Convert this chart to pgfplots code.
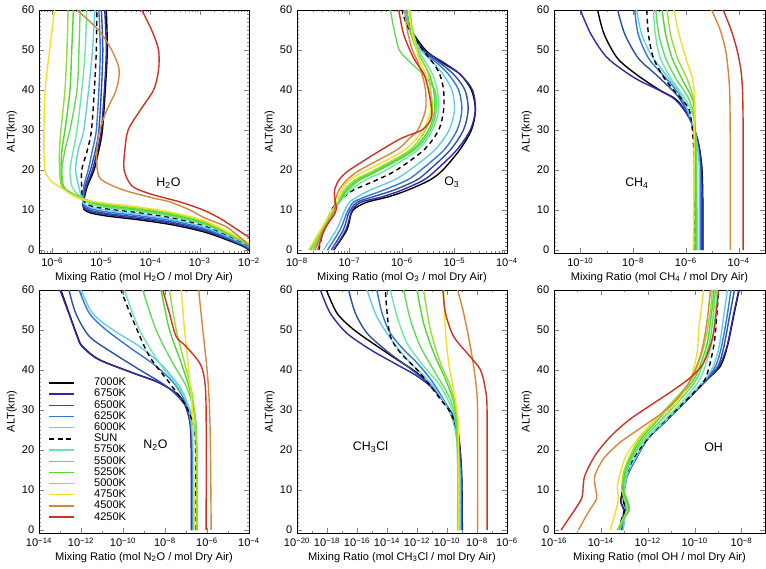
\documentclass[border=0pt]{standalone}
\usepackage{fontspec}
\setmainfont{Liberation Sans}
\usepackage{pgfplots}
\pgfplotsset{compat=1.18}

\definecolor{c6750}{RGB}{50,40,170}
\definecolor{c6500}{RGB}{45,80,165}
\definecolor{c6250}{RGB}{50,120,215}
\definecolor{c6000}{RGB}{100,205,235}
\definecolor{c5750}{RGB}{110,230,170}
\definecolor{c5500}{RGB}{100,220,90}
\definecolor{c5250}{RGB}{80,215,50}
\definecolor{c5000}{RGB}{150,220,60}
\definecolor{c4750}{RGB}{240,225,40}
\definecolor{c4500}{RGB}{215,135,55}
\definecolor{c4250}{RGB}{205,50,35}

\newcommand{\tl}[1]{10\textsuperscript{−#1}}
\newcommand{\lblfont}{\fontsize{8.3}{9}\selectfont}

\pgfkeys{/pgf/number format/assume math mode=true}
\tikzset{
  sun/.style={black, dash pattern=on 3.6pt off 2.8pt},
  species/.style={font=\fontsize{9.3}{10}\selectfont},
}
\pgfplotsset{scale only axis, width=157.5pt, height=182.25pt}
\pgfplotsset{ymin=-0.75, ymax=60, ytick={0,10,20,30,40,50,60}, minor y tick num=9}
\pgfplotsset{tick align=inside, major tick length=3.6pt, minor tick length=1.8pt}
\pgfplotsset{tick label style={font=\lblfont}, every axis label/.append style={font=\lblfont}}
\pgfplotsset{ylabel={ALT(km)}, ylabel style={yshift=-3pt}, xlabel style={yshift=3pt}}
\pgfplotsset{no markers, every axis plot/.append style={smooth, line width=1.05pt}}

\begin{document}
\begin{tikzpicture}
\path[use as bounding box] (0,0) rectangle (574.5pt,426pt);

% ---------------- H2O ----------------
\begin{semilogxaxis}[at={(29.25pt,236.25pt)}, anchor=south west,
  xmin=5.4e-7, xmax=1e-2,
  xtick={1e-6,1e-5,1e-4,1e-3,1e-2},
  xticklabels={\tl{6},\tl{5},\tl{4},\tl{3},\tl{2}},
  minor xtick={6e-7,7e-7,8e-7,9e-7,2e-6,3e-6,4e-6,5e-6,6e-6,7e-6,8e-6,9e-6,2e-5,3e-5,4e-5,5e-5,6e-5,7e-5,8e-5,9e-5,2e-4,3e-4,4e-4,5e-4,6e-4,7e-4,8e-4,9e-4,2e-3,3e-3,4e-3,5e-3,6e-3,7e-3,8e-3,9e-3},
  xlabel={Mixing Ratio (mol H\textsubscript{2}O / mol Dry Air)}]
\addplot[black] coordinates {(1.4e-2,-1)(1.0e-2,0)(6.6e-3,1.25)(1.38e-3,4.33)(2.9e-4,6.25)(6.2e-5,7.5)(1.29e-5,8.5)(5.9e-6,9.3)(4.4e-6,10.2)(4.3e-6,11)(4.5e-6,13)(5.2e-6,16)(7.1e-6,20)(8.9e-6,25)(1.05e-5,30)(1.2e-5,40)(1.32e-5,50)(1.26e-5,60)};
\addplot[c6750] coordinates {(1.4e-2,-0.84)(1.0e-2,0.16)(6.6e-3,1.42)(1.38e-3,4.61)(2.9e-4,6.56)(6.2e-5,7.82)(1.29e-5,8.82)(5.9e-6,9.6)(4.4e-6,10.5)(4.2e-6,11.5)(4.3e-6,13)(5.0e-6,16)(6.6e-6,20)(8.3e-6,25)(1.0e-5,30)(1.15e-5,40)(1.26e-5,50)(1.17e-5,60)};
\addplot[c6500] coordinates {(1.4e-2,-0.68)(1.0e-2,0.32)(6.6e-3,1.58)(1.38e-3,4.88)(2.9e-4,6.87)(6.2e-5,8.13)(1.29e-5,9.13)(5.9e-6,9.95)(4.4e-6,10.9)(4.2e-6,12)(4.4e-6,13.5)(4.7e-6,16)(6.0e-6,20)(7.6e-6,25)(8.9e-6,30)(1.0e-5,40)(1.07e-5,50)(1.0e-5,60)};
\addplot[c6250] coordinates {(1.4e-2,-0.49)(1.0e-2,0.51)(6.6e-3,1.78)(1.38e-3,5.21)(2.9e-4,7.24)(6.2e-5,8.51)(1.29e-5,9.51)(5.9e-6,10.35)(4.4e-6,11.3)(4.2e-6,12.3)(4.3e-6,14)(4.4e-6,16)(5.4e-6,20)(6.6e-6,25)(7.9e-6,30)(8.9e-6,40)(9.5e-6,50)(8.9e-6,60)};
\addplot[c6000] coordinates {(1.4e-2,-0.28)(1.0e-2,0.72)(6.6e-3,1.99)(1.38e-3,5.57)(2.9e-4,7.64)(6.2e-5,8.93)(1.29e-5,9.93)(5.9e-6,10.8)(4.3e-6,11.8)(4.1e-6,12.6)(3.6e-6,15)(3.0e-6,20)(3.4e-6,25)(4.4e-6,30)(5.5e-6,40)(6.6e-6,50)(7.4e-6,60)};
\addplot[sun] coordinates {(1.4e-2,-0.09)(1.0e-2,0.91)(6.6e-3,2.19)(1.38e-3,5.9)(2.9e-4,8.0)(6.2e-5,9.3)(1.29e-5,10.3)(5.9e-6,11.1)(4.3e-6,12.5)(4.0e-6,15)(4.0e-6,20)(5.2e-6,25)(6.3e-6,30)(7.2e-6,40)(7.9e-6,50)(8.1e-6,60)};
\addplot[c5750] coordinates {(1.4e-2,0.06)(1.0e-2,1.06)(6.6e-3,2.34)(1.38e-3,6.15)(2.9e-4,8.28)(6.2e-5,9.6)(1.29e-5,10.6)(5.9e-6,11.5)(4.2e-6,12.8)(3.0e-6,14.5)(2.5e-6,16)(2.3e-6,20)(2.7e-6,25)(3.2e-6,30)(4.0e-6,40)(4.7e-6,50)(5.0e-6,60)};
\addplot[c5500] coordinates {(1.4e-2,0.18)(1.0e-2,1.18)(6.6e-3,2.47)(1.38e-3,6.37)(2.9e-4,8.53)(6.2e-5,9.85)(1.29e-5,10.85)(5.9e-6,11.9)(4.0e-6,13)(2.3e-6,14.5)(1.7e-6,16)(1.58e-6,20)(1.82e-6,25)(2.3e-6,30)(3.2e-6,40)(3.5e-6,50)(3.7e-6,60)};
\addplot[c5250] coordinates {(1.4e-2,0.33)(1.0e-2,1.33)(6.6e-3,2.62)(1.38e-3,6.61)(2.9e-4,8.81)(6.2e-5,10.13)(1.29e-5,11.13)(5.9e-6,12.1)(3.9e-6,13.1)(2.2e-6,14.5)(1.6e-6,16)(1.51e-6,20)(1.58e-6,25)(1.82e-6,30)(2.3e-6,40)(2.5e-6,50)(2.7e-6,60)};
\addplot[c5000] coordinates {(1.4e-2,0.47)(1.0e-2,1.47)(6.6e-3,2.77)(1.38e-3,6.86)(2.9e-4,9.08)(6.2e-5,10.42)(1.29e-5,11.42)(5.9e-6,12.3)(3.8e-6,13.2)(2.1e-6,14.5)(1.55e-6,16)(1.41e-6,20)(1.41e-6,25)(1.51e-6,30)(1.82e-6,40)(2.0e-6,50)(2.1e-6,60)};
\addplot[c4750] coordinates {(1.58e-2,0)(1.05e-2,1.5)(6.6e-3,2.9)(1.38e-3,7.08)(2.9e-4,9.33)(6.2e-5,10.67)(1.29e-5,11.67)(4.4e-6,12.5)(2.5e-6,13.8)(1.78e-6,15)(1.0e-6,17)(8.0e-7,18.5)(7.1e-7,20)(6.8e-7,25)(6.8e-7,30)(7.2e-7,40)(8.9e-7,50)(1.12e-6,60)};
\addplot[c4500] coordinates {(1.32e-2,0)(8.5e-3,2)(5.4e-3,4)(3.2e-3,6)(1.26e-3,8)(6.3e-4,10)(2.5e-4,12)(1.12e-4,13)(2.8e-5,15)(1.02e-5,17.5)(8.3e-6,20)(8.1e-6,25)(9.3e-6,30)(1.29e-5,35)(2.0e-5,40)(2.3e-5,45)(1.62e-5,50)(8.7e-6,55)(3.2e-6,60)};
\addplot[c4250] coordinates {(2.5e-2,0)(1.41e-2,2)(7.9e-3,4)(4.5e-3,6)(2.5e-3,8)(1.17e-3,10)(4.0e-4,12)(1.0e-4,14)(4.2e-5,16)(2.9e-5,20)(3.0e-5,25)(3.5e-5,30)(6.2e-5,35)(1.15e-4,40)(1.45e-4,45)(1.45e-4,50)(1.05e-4,55)(6.6e-5,60)};
\node[species] at (axis cs:2.3e-4,16.8) {H\textsubscript{2}O};
\end{semilogxaxis}

% ---------------- O3 ----------------
\begin{semilogxaxis}[at={(222.75pt,236.25pt)}, anchor=south west,
  xmin=1e-8, xmax=1e-4,
  xtick={1e-8,1e-7,1e-6,1e-5,1e-4},
  xticklabels={\tl{8},\tl{7},\tl{6},\tl{5},\tl{4}},
  minor xtick={2e-8,3e-8,4e-8,5e-8,6e-8,7e-8,8e-8,9e-8,2e-7,3e-7,4e-7,5e-7,6e-7,7e-7,8e-7,9e-7,2e-6,3e-6,4e-6,5e-6,6e-6,7e-6,8e-6,9e-6,2e-5,3e-5,4e-5,5e-5,6e-5,7e-5,8e-5,9e-5},
  xlabel={Mixing Ratio (mol O\textsubscript{3} / mol Dry Air)}]
\addplot[black] coordinates {(5.0e-8,0)(8.9e-8,5)(1.07e-7,9)(1.3e-7,10.5)(2.2e-7,12)(5.5e-7,13.3)(1.3e-6,15)(3.4e-6,17.5)(6.0e-6,20)(1.25e-5,25)(2.1e-5,30)(2.5e-5,35)(2.1e-5,40)(1.26e-5,44)(5.6e-6,47)(2.8e-6,50)(1.51e-6,55)(1.2e-6,60)};
\addplot[c6750] coordinates {(5.0e-8,0)(8.5e-8,5)(1.05e-7,9)(1.2e-7,10.5)(1.7e-7,12)(4.2e-7,13.3)(1.0e-6,15)(2.6e-6,17.5)(4.5e-6,20)(1.1e-5,25)(2.0e-5,30)(2.5e-5,35)(2.2e-5,40)(1.26e-5,44)(6.0e-6,47)(2.6e-6,50)(1.48e-6,55)(1.2e-6,60)};
\addplot[c6500] coordinates {(4.5e-8,0)(7.6e-8,5)(9.5e-8,9)(1.1e-7,10.5)(1.41e-7,12)(2.8e-7,13.3)(7.1e-7,15)(1.91e-6,17.5)(3.3e-6,20)(8.3e-6,25)(1.48e-5,30)(1.82e-5,35)(1.58e-5,40)(9.5e-6,44)(5.0e-6,47)(2.5e-6,50)(1.41e-6,55)(1.17e-6,60)};
\addplot[c6250] coordinates {(3.8e-8,0)(6.6e-8,5)(8.7e-8,9)(1.0e-7,10.5)(1.2e-7,12)(2.0e-7,13.3)(4.5e-7,15)(1.26e-6,17.5)(2.3e-6,20)(6.3e-6,25)(1.12e-5,30)(1.38e-5,35)(1.2e-5,40)(7.6e-6,44)(4.4e-6,47)(2.3e-6,50)(1.41e-6,55)(1.17e-6,60)};
\addplot[c6000] coordinates {(3.2e-8,0)(5.6e-8,5)(7.6e-8,9)(8.5e-8,10.5)(1.0e-7,12)(1.41e-7,13.3)(2.5e-7,15)(7.1e-7,17.5)(1.41e-6,20)(4.2e-6,25)(7.9e-6,30)(1.0e-5,35)(8.9e-6,40)(6.0e-6,44)(3.8e-6,47)(2.3e-6,50)(1.41e-6,55)(1.17e-6,60)};
\addplot[sun] coordinates {(2.6e-8,0)(3.2e-8,5)(4.2e-8,9)(4.8e-8,10.5)(6.0e-8,12)(7.9e-8,13.3)(1.2e-7,15)(3.3e-7,17.5)(7.9e-7,20)(2.6e-6,25)(5.0e-6,30)(6.2e-6,35)(6.2e-6,40)(5.2e-6,44)(3.8e-6,47)(2.5e-6,50)(1.35e-6,55)(1.0e-6,60)};
\addplot[c5750] coordinates {(2.2e-8,0)(3.4e-8,5)(4.7e-8,9)(5.4e-8,10.5)(6.6e-8,12)(7.9e-8,13.3)(1.05e-7,15)(2.0e-7,17.5)(5.0e-7,20)(2.0e-6,25)(3.8e-6,30)(5.0e-6,35)(4.7e-6,40)(3.8e-6,44)(2.8e-6,47)(2.1e-6,50)(1.58e-6,55)(1.41e-6,60)};
\addplot[c5500] coordinates {(2.0e-8,0)(3.2e-8,5)(4.5e-8,9)(5.2e-8,10.5)(6.3e-8,12)(7.4e-8,13.3)(9.3e-8,15)(1.58e-7,17.5)(3.8e-7,20)(1.74e-6,25)(3.5e-6,30)(4.5e-6,35)(4.2e-6,40)(2.5e-6,44)(1.41e-6,47)(8.9e-7,50)(7.1e-7,55)(6.0e-7,60)};
\addplot[c5250] coordinates {(1.82e-8,0)(3.0e-8,5)(4.4e-8,9)(5.1e-8,10.5)(6.2e-8,12)(7.1e-8,13.3)(8.7e-8,15)(1.41e-7,17.5)(3.4e-7,20)(1.58e-6,25)(3.2e-6,30)(4.2e-6,35)(4.0e-6,40)(3.3e-6,44)(2.5e-6,47)(1.91e-6,50)(1.41e-6,55)(1.26e-6,60)};
\addplot[c5000] coordinates {(1.74e-8,0)(2.95e-8,5)(4.3e-8,9)(5.0e-8,10.5)(6.0e-8,12)(6.8e-8,13.3)(7.9e-8,15)(1.26e-7,17.5)(3.0e-7,20)(1.41e-6,25)(2.8e-6,30)(3.8e-6,35)(3.5e-6,40)(3.2e-6,44)(2.5e-6,47)(2.0e-6,50)(1.58e-6,55)(1.41e-6,60)};
\addplot[c4750] coordinates {(1.66e-8,0)(2.8e-8,5)(4.2e-8,9)(5.0e-8,10.5)(5.9e-8,12)(6.3e-8,13.3)(7.1e-8,15)(1.0e-7,17.5)(2.2e-7,20)(1.12e-6,25)(2.5e-6,30)(3.5e-6,35)(3.2e-6,40)(2.8e-6,44)(2.2e-6,47)(1.91e-6,50)(1.51e-6,55)(1.35e-6,60)};
\addplot[c4500] coordinates {(2.2e-8,0)(3.2e-8,5)(5.0e-8,9)(5.2e-8,10.5)(5.2e-8,12)(5.6e-8,13.3)(6.3e-8,15)(8.9e-8,17.5)(1.58e-7,20)(7.9e-7,25)(1.41e-6,28)(2.0e-6,30)(2.8e-6,35)(2.8e-6,40)(2.4e-6,44)(2.0e-6,47)(1.58e-6,50)(1.26e-6,55)(1.12e-6,60)};
\addplot[c4250] coordinates {(2.5e-8,0)(3.3e-8,5)(5.2e-8,9)(5.6e-8,10.5)(5.4e-8,12)(5.2e-8,13.3)(5.2e-8,15)(6.3e-8,17.5)(1.0e-7,20)(4.0e-7,25)(1.0e-6,28)(2.4e-6,30)(3.5e-6,32.5)(3.7e-6,35)(3.2e-6,40)(2.6e-6,44)(1.66e-6,48)(1.07e-6,54)(8.7e-7,60)};
\node[species] at (axis cs:8.9e-6,16.9) {O\textsubscript{3}};
\end{semilogxaxis}

% ---------------- CH4 ----------------
\begin{semilogxaxis}[at={(415.5pt,236.25pt)}, anchor=south west, width=158.25pt,
  xmin=1e-11, xmax=1e-3,
  xtick={1e-10,1e-8,1e-6,1e-4},
  xticklabels={\tl{10},\tl{8},\tl{6},\tl{4}},
  minor xtick={1e-11,1e-9,1e-7,1e-5,1e-3},
  xlabel={Mixing Ratio (mol CH\textsubscript{4} / mol Dry Air)}]
\addplot[black] coordinates {(4.4e-6,0)(4.4e-6,12)(4.0e-6,21)(2.8e-6,27.5)(1.35e-6,33)(4.5e-7,37.5)(1.0e-7,40)(1.26e-8,44)(2.5e-9,48)(7.9e-10,54)(4.5e-10,60)};
\addplot[c6750] coordinates {(4.2e-6,0)(4.2e-6,12)(3.8e-6,21)(2.8e-6,27.5)(1.35e-6,33)(4.1e-7,37.5)(9.3e-8,40)(1.15e-8,43)(1.07e-9,48)(2.5e-10,54)(1.0e-10,60)};
\addplot[c6500] coordinates {(3.8e-6,0)(3.8e-6,12)(3.5e-6,21)(2.5e-6,27.5)(1.41e-6,33)(6.3e-7,37.5)(3.0e-7,40)(6.9e-8,44)(1.55e-8,48)(4.8e-9,54)(2.6e-9,60)};
\addplot[c6250] coordinates {(3.5e-6,0)(3.5e-6,12)(3.4e-6,21)(2.5e-6,27.5)(1.41e-6,33)(5.5e-7,39)(1.7e-7,43)(3.8e-8,48)(1.55e-8,54)(1.15e-8,60)};
\addplot[c6000] coordinates {(3.2e-6,0)(3.2e-6,21)(2.5e-6,27.5)(1.51e-6,33)(7.4e-7,38)(2.2e-7,43)(5.1e-8,48.5)(2.1e-8,54)(1.35e-8,60)};
\addplot[sun] coordinates {(2.1e-6,0)(2.1e-6,20)(1.82e-6,29)(1.35e-6,35)(7.4e-7,37.5)(1.7e-7,42.5)(5.9e-8,48)(3.8e-8,54)(3.3e-8,60)};
\addplot[c5750] coordinates {(2.7e-6,0)(2.6e-6,20)(2.5e-6,25)(2.0e-6,33)(1.0e-6,37.5)(3.0e-7,42.5)(1.07e-7,48)(6.9e-8,54)(5.9e-8,60)};
\addplot[c5500] coordinates {(2.5e-6,0)(2.4e-6,25)(2.1e-6,32.5)(1.35e-6,37.5)(4.1e-7,43)(1.7e-7,48)(9.3e-8,54)(7.2e-8,60)};
\addplot[c5250] coordinates {(2.3e-6,0)(2.3e-6,25)(2.2e-6,32)(1.82e-6,37.5)(7.4e-7,42.5)(3.0e-7,48)(1.7e-7,54)(1.26e-7,60)};
\addplot[c5000] coordinates {(2.0e-6,0)(2.1e-6,30)(2.1e-6,36.7)(1.15e-6,42.5)(4.8e-7,48)(2.6e-7,54)(1.95e-7,60)};
\addplot[c4750] coordinates {(1.91e-6,0)(2.1e-6,30)(2.2e-6,36.7)(1.82e-6,42.5)(1.0e-6,48)(5.5e-7,54)(3.5e-7,60)};
\addplot[c4500] coordinates {(4.8e-5,0)(4.8e-5,25)(4.75e-5,33)(4.55e-5,40)(4.0e-5,45)(3.2e-5,50)(2.0e-5,55)(9.5e-6,60)};
\addplot[c4250] coordinates {(1.48e-4,0)(1.48e-4,25)(1.47e-4,33)(1.4e-4,40)(1.22e-4,45)(8.7e-5,50)(5.2e-5,55)(2.6e-5,60)};
\node[species] at (axis cs:1.4e-8,16.8) {CH\textsubscript{4}};
\end{semilogxaxis}

% ---------------- N2O ----------------
\begin{semilogxaxis}[at={(29.25pt,26.25pt)}, anchor=south west,
  xmin=1e-14, xmax=1e-4,
  xtick={1e-14,1e-12,1e-10,1e-8,1e-6,1e-4},
  xticklabels={\tl{14},\tl{12},\tl{10},\tl{8},\tl{6},\tl{4}},
  minor xtick={1e-13,1e-11,1e-9,1e-7,1e-5},
  xlabel={Mixing Ratio (mol N\textsubscript{2}O / mol Dry Air)},
  legend style={draw=none, fill=none, at={(0.045,0.65)}, anchor=north west,
    font=\lblfont, row sep=-2.9pt, inner sep=0pt},
  legend cell align=left,
  legend image code/.code={\draw[#1, line width=1.05pt] (0pt,0pt) -- (18.5pt,0pt); \path (31pt,0pt);}]
\addplot[black] coordinates {(1.9e-7,0)(1.78e-7,22.8)(1.23e-7,29.4)(4.9e-8,33.5)(5.4e-9,36.8)(2.9e-10,39.3)(7.4e-12,42.6)(1.17e-12,45.9)(6.8e-13,48.4)(2.7e-13,54.2)(1.1e-13,60)};
\addplot[c6750] coordinates {(1.78e-7,0)(1.74e-7,22.8)(1.2e-7,29.4)(4.8e-8,33.5)(5.2e-9,36.8)(2.8e-10,39.3)(7.0e-12,42.6)(1.12e-12,45.9)(6.5e-13,48.4)(2.6e-13,54.2)(1.0e-13,60)};
\addplot[c6500] coordinates {(1.95e-7,0)(1.78e-7,26.9)(7.1e-8,31.9)(1.12e-8,36)(6.0e-10,40.1)(3.2e-11,44.3)(2.5e-12,48.4)(5.6e-13,54.2)(2.7e-13,60)};
\addplot[c6250] coordinates {(2.1e-7,0)(2.0e-7,22)(1.23e-7,30.2)(3.4e-8,36)(3.7e-9,41)(2.9e-10,45.1)(1.51e-11,50.1)(2.5e-12,54.2)(8.1e-13,60)};
\addplot[c6000] coordinates {(2.2e-7,0)(2.2e-7,20)(1.48e-7,29.4)(5.9e-8,35.2)(7.8e-9,41)(6.0e-10,45.9)(3.2e-11,50.1)(3.5e-12,54.2)(1.0e-12,60)};
\addplot[sun] coordinates {(3.0e-7,0)(2.9e-7,18)(2.5e-7,25.2)(1.0e-7,31)(1.62e-8,36.8)(1.78e-9,43.5)(2.9e-10,52.6)(7.9e-11,60)};
\addplot[c5750] coordinates {(3.3e-7,0)(3.1e-7,18)(3.0e-7,22.8)(1.78e-7,29.4)(4.9e-8,35.2)(5.4e-9,41.8)(6.0e-10,50.1)(1.15e-10,60)};
\addplot[c5500] coordinates {(3.3e-7,0)(3.2e-7,20)(2.5e-7,29.4)(1.0e-7,36)(2.3e-8,41.8)(3.7e-9,50.1)(8.7e-10,60)};
\addplot[c5250] coordinates {(3.3e-7,0)(3.2e-7,20)(2.8e-7,27.7)(1.48e-7,35.2)(5.9e-8,41.8)(1.62e-8,50.1)(6.5e-9,60)};
\addplot[c5000] coordinates {(3.4e-7,0)(3.3e-7,20)(2.8e-7,27.7)(1.78e-7,35.2)(8.5e-8,41.8)(3.4e-8,50.1)(1.62e-8,60)};
\addplot[c4750] coordinates {(2.5e-7,0)(2.3e-7,21.1)(1.95e-7,31)(1.35e-7,40.1)(8.5e-8,50.1)(5.9e-8,60)};
\addplot[c4500] coordinates {(1.58e-6,0)(1.41e-6,25)(1.1e-6,37.7)(6.3e-7,50.1)(4.0e-7,60)};
\addplot[c4250] coordinates {(9.1e-7,0)(9.1e-7,29.4)(7.6e-7,37.7)(4.4e-7,41.8)(1.0e-7,45.9)(3.4e-8,48.4)(1.62e-8,54.2)(7.8e-9,60)};
\legend{7000K,6750K,6500K,6250K,6000K,SUN,5750K,5500K,5250K,5000K,4750K,4500K,4250K}
\node[species] at (axis cs:3.5e-9,21.2) {N\textsubscript{2}O};
\end{semilogxaxis}

% ---------------- CH3Cl ----------------
\begin{semilogxaxis}[at={(222.75pt,26.25pt)}, anchor=south west,
  xmin=1e-20, xmax=1e-6,
  xtick={1e-20,1e-18,1e-16,1e-14,1e-12,1e-10,1e-8,1e-6},
  xticklabels={\tl{20},\tl{18},\tl{16},\tl{14},\tl{12},\tl{10},\tl{8},\tl{6}},
  minor xtick={1e-19,1e-17,1e-15,1e-13,1e-11,1e-9,1e-7},
  xlabel={Mixing Ratio (mol CH\textsubscript{3}Cl / mol Dry Air)}]
\addplot[black] coordinates {(1.05e-9,0)(9.3e-10,15)(4.7e-10,26)(1.0e-10,31)(1.29e-11,35.2)(1.0e-12,39.3)(4.7e-14,42.6)(2.1e-15,46)(6.0e-17,50.1)(4.7e-18,54.2)(9.1e-19,60)};
\addplot[c6750] coordinates {(1.0e-9,0)(8.9e-10,15)(4.7e-10,26)(1.0e-10,31)(1.29e-11,35.2)(1.0e-12,38.5)(2.75e-14,41.8)(7.8e-16,45.1)(2.1e-17,49.2)(1.66e-18,54.2)(3.6e-19,60)};
\addplot[c6500] coordinates {(9.5e-10,0)(8.5e-10,15)(4.7e-10,24.4)(1.66e-10,29.4)(2.75e-11,34)(2.75e-12,37.7)(2.1e-13,41)(1.0e-14,44.7)(4.7e-16,49.2)(7.8e-17,54.2)(2.75e-17,60)};
\addplot[c6250] coordinates {(8.5e-10,0)(7.8e-10,15)(3.6e-10,25.2)(1.0e-10,31)(1.0e-11,37.2)(1.0e-12,41.8)(1.29e-13,45.1)(1.66e-14,49.2)(4.7e-15,54.2)(2.1e-15,60)};
\addplot[c6000] coordinates {(7.8e-10,0)(7.2e-10,15)(2.75e-10,27)(3.6e-11,33.5)(4.7e-12,37.7)(3.6e-13,41.8)(2.75e-14,46.8)(2.1e-15,53.3)(4.7e-16,60)};
\addplot[sun] coordinates {(6.0e-10,0)(5.8e-10,15)(4.7e-10,24.4)(1.66e-10,29.4)(3.6e-11,32.7)(7.8e-12,36)(1.0e-12,40.1)(7.8e-14,44.3)(1.66e-14,48.4)(1.0e-14,54.6)(7.8e-15,60)};
\addplot[c5750] coordinates {(6.3e-10,0)(6.0e-10,15)(4.7e-10,25.2)(2.1e-10,30.2)(3.6e-11,36)(2.75e-12,41)(2.1e-13,46.8)(4.7e-14,53.4)(1.66e-14,60)};
\addplot[c5500] coordinates {(5.6e-10,0)(5.4e-10,15)(3.6e-10,27.7)(1.29e-10,33.5)(1.66e-11,39.3)(1.66e-12,45.9)(3.6e-13,52.6)(1.29e-13,60)};
\addplot[c5250] coordinates {(5.4e-10,0)(5.2e-10,15)(4.7e-10,26.1)(2.75e-10,32)(7.9e-11,37.7)(1.29e-11,44.3)(2.75e-12,51.7)(1.0e-12,60)};
\addplot[c5000] coordinates {(5.1e-10,0)(5.1e-10,25.2)(3.6e-10,31)(1.66e-10,36)(3.6e-11,41.8)(7.8e-12,50.1)(2.75e-12,60)};
\addplot[c4750] coordinates {(6.0e-10,0)(6.0e-10,23.6)(4.7e-10,29.4)(2.75e-10,35.2)(1.29e-10,41.8)(7.8e-11,50.1)(6.0e-11,60)};
\addplot[c4500] coordinates {(1.1e-8,0)(1.1e-8,29.4)(7.8e-9,37.7)(3.6e-9,45.9)(1.29e-9,54.2)(5.1e-10,60)};
\addplot[c4250] coordinates {(4.7e-8,0)(4.7e-8,29.4)(3.6e-8,35.2)(1.66e-8,40.1)(2.1e-9,44.3)(2.75e-10,48.4)(7.9e-11,54.2)(5.4e-11,60)};
\node[species] at (axis cs:8e-16,20.8) {CH\textsubscript{3}Cl};
\end{semilogxaxis}

% ---------------- OH ----------------
\begin{semilogxaxis}[at={(415.5pt,26.25pt)}, anchor=south west, width=158.25pt,
  xmin=1e-16, xmax=1e-7,
  xtick={1e-16,1e-14,1e-12,1e-10,1e-8},
  xticklabels={\tl{16},\tl{14},\tl{12},\tl{10},\tl{8}},
  minor xtick={1e-15,1e-13,1e-11,1e-9,1e-7},
  xlabel={Mixing Ratio (mol OH / mol Dry Air)}]
\addplot[black] coordinates {(7.9e-14,0)(8.9e-14,3)(9.5e-14,5)(7.0e-14,7)(7.6e-14,8.5)(8.9e-14,10.5)(1.41e-13,14)(3.2e-13,18)(1.0e-12,22.8)(7.1e-12,27.7)(5.0e-11,32.7)(3.5e-10,37.7)(1.26e-9,41)(2.5e-9,46)(4.8e-9,54)(7.9e-9,60)};
\addplot[c6750] coordinates {(7.6e-14,0)(8.7e-14,3)(9.5e-14,5)(7.2e-14,7)(7.8e-14,8.5)(8.9e-14,10.5)(1.41e-13,14)(3.2e-13,18)(1.0e-12,22.8)(7.1e-12,27.7)(5.0e-11,32.7)(3.5e-10,37.7)(1.12e-9,41)(2.4e-9,46)(4.6e-9,54)(7.6e-9,60)};
\addplot[c6500] coordinates {(8.3e-14,0)(1.0e-13,3)(1.12e-13,5)(1.0e-13,6.5)(8.9e-14,8)(1.0e-13,10)(1.41e-13,14)(3.2e-13,18)(1.0e-12,22.8)(7.1e-12,27.7)(5.0e-11,32.7)(3.2e-10,37.7)(1.0e-9,41)(1.78e-9,46)(3.2e-9,54)(5.0e-9,60)};
\addplot[c6250] coordinates {(8.5e-14,0)(1.02e-13,3)(1.15e-13,5)(1.05e-13,6.5)(9.3e-14,8)(1.0e-13,10)(1.38e-13,14)(3.1e-13,18)(9.8e-13,22.8)(7.0e-12,27.7)(4.9e-11,32.7)(3.0e-10,37.7)(7.9e-10,41)(1.41e-9,46)(2.5e-9,54)(3.5e-9,60)};
\addplot[c6000] coordinates {(8.9e-14,0)(1.05e-13,3)(1.2e-13,5)(1.15e-13,6.5)(1.0e-13,8)(1.0e-13,10)(1.35e-13,14)(3.0e-13,18)(9.5e-13,22.8)(6.8e-12,27.7)(4.8e-11,32.7)(2.8e-10,37.7)(6.3e-10,41)(1.12e-9,46)(1.78e-9,54)(2.5e-9,60)};
\addplot[sun] coordinates {(5.6e-14,0)(7.9e-14,3)(1.07e-13,5.4)(8.3e-14,8)(7.9e-14,10)(1.26e-13,14)(2.5e-13,18)(1.26e-12,23.6)(9.1e-12,28.6)(6.5e-11,33.5)(2.8e-10,37.7)(6.5e-10,46)(8.9e-10,54.2)(1.05e-9,60)};
\addplot[c5750] coordinates {(6.3e-14,0)(1.0e-13,3)(1.58e-13,5)(1.41e-13,7)(1.0e-13,10)(1.26e-13,14)(2.2e-13,18)(8.9e-13,23)(6.3e-12,28)(4.0e-11,33)(1.78e-10,38)(5.0e-10,46)(7.6e-10,54)(8.9e-10,60)};
\addplot[c5500] coordinates {(6.0e-14,0)(1.0e-13,3)(1.66e-13,5)(1.41e-13,7)(9.5e-14,10)(1.12e-13,14)(2.0e-13,18)(7.1e-13,23)(4.5e-12,28)(2.8e-11,33)(1.26e-10,38)(4.0e-10,46)(6.3e-10,54)(7.6e-10,60)};
\addplot[c5250] coordinates {(5.6e-14,0)(9.5e-14,3)(1.58e-13,5)(1.26e-13,7)(8.9e-14,10)(1.0e-13,14)(1.78e-13,18)(5.6e-13,23)(3.2e-12,28)(2.0e-11,33)(1.0e-10,38)(3.2e-10,46)(5.2e-10,54)(6.6e-10,60)};
\addplot[c5000] coordinates {(5.0e-14,0)(8.9e-14,3)(1.41e-13,5)(1.12e-13,7)(7.9e-14,10)(8.9e-14,14)(1.58e-13,18)(4.5e-13,23)(2.5e-12,28)(1.58e-11,33)(7.9e-11,38)(2.5e-10,46)(4.5e-10,54)(5.6e-10,60)};
\addplot[c4750] coordinates {(2.5e-14,0)(4.2e-14,4.6)(5.6e-14,8)(5.0e-14,10.4)(6.3e-14,13.7)(1.2e-13,18.6)(4.8e-13,23.6)(2.2e-12,27.7)(1.74e-11,31.9)(6.5e-11,37.7)(1.26e-10,44.3)(1.48e-10,50)(1.9e-10,55)(2.4e-10,60)};
\addplot[c4500] coordinates {(1.1e-15,0)(3.0e-15,4.6)(6.6e-15,7.9)(5.6e-15,11.2)(5.6e-15,13.7)(1.29e-14,17.8)(6.6e-14,21.9)(6.6e-13,26)(6.5e-12,30.2)(4.7e-11,36)(1.74e-10,43.5)(3.3e-10,51.8)(4.7e-10,60)};
\addplot[c4250] coordinates {(2.0e-16,0)(6.8e-16,4.6)(1.51e-15,7.9)(1.78e-15,11.2)(2.1e-15,13.7)(5.6e-15,18.6)(2.5e-14,23.3)(1.58e-13,27.5)(1.58e-12,31.5)(1.26e-11,35)(7.9e-11,38.5)(2.5e-10,42)(6.3e-10,49)(1.05e-9,60)};
\node[species] at (axis cs:6.4e-10,20.8) {OH};
\end{semilogxaxis}
\end{tikzpicture}
\end{document}
